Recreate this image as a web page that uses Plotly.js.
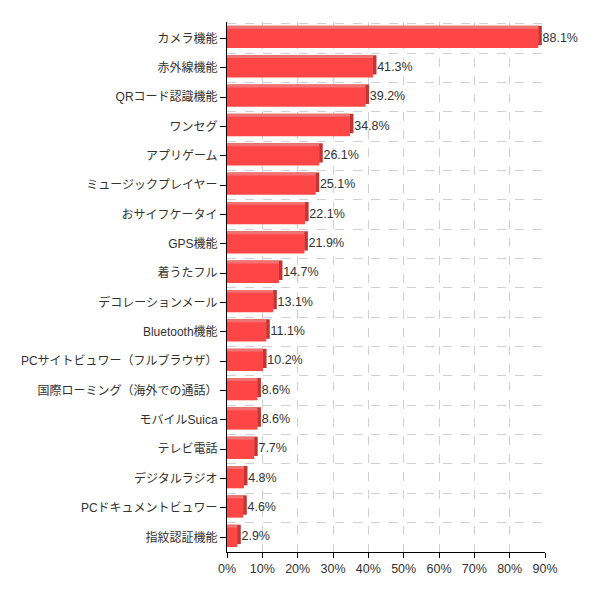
<!DOCTYPE html>
<html>
<head>
<meta charset="utf-8">
<script src="https://cdn.plot.ly/plotly-3.0.1.min.js"></script>
<style>
  body { margin: 0; background: #fff; }
  #chart { width: 598px; height: 598px; }
</style>
</head>
<body>
<div id="chart"></div>
<script>
const features = [
  "カメラ機能", "赤外線機能", "QRコード認識機能", "ワンセグ", "アプリゲーム",
  "ミュージックプレイヤー", "おサイフケータイ", "GPS機能", "着うたフル",
  "デコレーションメール", "Bluetooth機能", "PCサイトビュワー（フルブラウザ）",
  "国際ローミング（海外での通話）", "モバイルSuica", "テレビ電話",
  "デジタルラジオ", "PCドキュメントビュワー", "指紋認証機能"
];
const percents = [88.1, 41.3, 39.2, 34.8, 26.1, 25.1, 22.1, 21.9, 14.7, 13.1, 11.1, 10.2, 8.6, 8.6, 7.7, 4.8, 4.6, 2.9];
const xTicks = [0, 10, 20, 30, 40, 50, 60, 70, 80, 90];

// bars sit on numeric positions so grid lines can fall between categories
let positions = features.map((f, i) => i);
let labels = percents.map(v => v.toFixed(1) + "%");

let fontFamily = "Liberation Sans, Arial, Noto Sans CJK JP, sans-serif";
let barWidth = 0.66;
let depth = 0.1;     // fake 3d depth, in category units
let sideDepth = 1.0; // fake 3d depth, in percent units

let traceData = [
  {
    // dark right-hand side of the bar
    type: "bar",
    orientation: "h",
    y: positions,
    x: percents.map(v => v + sideDepth),
    width: barWidth,
    offset: -barWidth / 2 - depth,
    marker: { color: "#c23535" },
    hoverinfo: "skip",
    showlegend: false
  },
  {
    // lighter top face
    type: "bar",
    orientation: "h",
    y: positions,
    x: percents,
    width: barWidth,
    offset: -barWidth / 2 - depth,
    marker: { color: "#f07272" },
    hoverinfo: "skip",
    showlegend: false
  },
  {
    type: "bar",
    orientation: "h",
    y: positions,
    x: percents,
    width: barWidth,
    offset: -barWidth / 2,
    marker: { color: "#ff4646" },
    hovertemplate: "%{customdata}: %{x}%<extra></extra>",
    customdata: features,
    showlegend: false
  },
  {
    // value labels after the bar end
    type: "scatter",
    mode: "text",
    y: positions,
    x: percents.map(v => v + sideDepth + 0.2),
    text: labels,
    textposition: "middle right",
    textfont: { family: fontFamily, size: 12.5, color: "#333" },
    hoverinfo: "skip",
    showlegend: false,
    cliponaxis: false
  }
];

let traceLayout = {
  width: 598,
  height: 598,
  barmode: "overlay",
  paper_bgcolor: "#fff",
  plot_bgcolor: "#fff",
  font: { family: fontFamily, size: 12, color: "#333" },
  margin: { l: 227, r: 53, t: 22, b: 46, pad: 0 },
  xaxis: {
    range: [0, 90],
    tickmode: "array",
    tickvals: xTicks,
    ticktext: xTicks.map(v => v + "%"),
    showgrid: true,
    gridcolor: "#d0d0d0",
    griddash: "dash",
    zeroline: false,
    showline: true,
    linecolor: "#000",
    linewidth: 1,
    ticks: "outside",
    ticklen: 5,
    tickcolor: "#000",
    tickfont: { size: 12.5, color: "#333" },
    fixedrange: true
  },
  yaxis: {
    range: [features.length - 0.5, -0.56],
    tickmode: "array",
    tickvals: positions,
    ticktext: features,
    showgrid: false,
    zeroline: false,
    showline: true,
    linecolor: "#000",
    linewidth: 1,
    ticks: "outside",
    ticklen: 6,
    tickcolor: "#000",
    tickfont: { size: 12, color: "#333" },
    minor: {
      tick0: 0.5,
      dtick: 1,
      showgrid: true,
      gridcolor: "#d0d0d0",
      griddash: "dash",
      ticks: ""
    },
    fixedrange: true
  }
};

Plotly.newPlot("chart", traceData, traceLayout, { displayModeBar: false, responsive: false });
</script>
</body>
</html>
